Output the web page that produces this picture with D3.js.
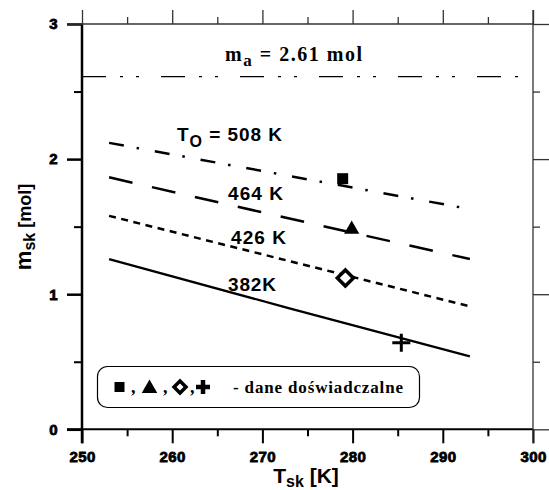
<!DOCTYPE html>
<html>
<head>
<meta charset="utf-8">
<script src="https://cdn.jsdelivr.net/npm/d3@7"></script>
<style>
html,body{margin:0;padding:0;background:#fff;}
svg{display:block;}
</style>
</head>
<body>
<svg id="chart" width="549" height="490"></svg>
<script>
// ---- data ----
const xTicks = [250, 260, 270, 280, 290, 300];
const yTicks = [0, 1, 2, 3];
const lineT = [253, 273, 293];
const m508 = [2.12, 1.875, 1.63];
const m464 = [1.865, 1.56, 1.26];
const m426 = [1.58, 1.245, 0.91];
const m382 = [1.26, 0.895, 0.54];
const lineLabels = ["508 K", "464 K", "426 K", "382K"];
const expT = [278.9, 279.9, 279.2, 285.4];
const expM = [1.855, 1.48, 1.12, 0.64];
const mA = 2.61;

const svg = d3.select("#chart");
const x = d3.scaleLinear().domain([250, 300]).range([82, 533]);
const y = d3.scaleLinear().domain([0, 3]).range([429.3, 24]);

const sans = "Arial, 'Liberation Sans', Helvetica, sans-serif";
const serif = "'Times New Roman', 'Liberation Serif', serif";

// ---- axes ----
function styleAxis(g, w, col) {
  g.select(".domain").attr("stroke", col).attr("stroke-width", w);
  g.selectAll(".tick line").attr("stroke", col).attr("stroke-width", w);
}
function styleTickText(g) {
  g.selectAll(".tick text")
    .style("font-family", sans).style("font-weight", "bold").style("font-size", "15px")
    .style("letter-spacing", "0.4px")
    .attr("fill", "#000").attr("stroke", "#000").attr("stroke-width", 0.8);
}
const xMinor = d3.range(255, 300, 10);
const yMinor = [0.5, 1.5, 2.5];

// bottom
const gB = svg.append("g").attr("transform", `translate(0,${y(0)})`)
  .call(d3.axisBottom(x).tickValues(xTicks).tickSize(14).tickSizeOuter(0).tickFormat(d3.format("d")).tickPadding(8));
styleTickText(gB);
const gBm = svg.append("g").attr("transform", `translate(0,${y(0)})`)
  .call(d3.axisBottom(x).tickValues(xMinor).tickSize(7).tickSizeOuter(0).tickFormat(""));
gBm.select(".domain").remove();
styleAxis(gB, 2, "#000"); styleAxis(gBm, 2, "#000");

// left
const gL = svg.append("g").attr("transform", `translate(${x(250)},0)`)
  .call(d3.axisLeft(y).tickValues(yTicks).tickSize(15).tickSizeOuter(0).tickFormat(d3.format("d")).tickPadding(9));
styleTickText(gL);
const gLm = svg.append("g").attr("transform", `translate(${x(250)},0)`)
  .call(d3.axisLeft(y).tickValues(yMinor).tickSize(8).tickSizeOuter(0).tickFormat(""));
gLm.select(".domain").remove();
styleAxis(gL, 2.5, "#000"); styleAxis(gLm, 2, "#000");

// top
const gT = svg.append("g").attr("transform", `translate(0,${y(3)})`)
  .call(d3.axisTop(x).tickValues(xTicks).tickSize(14).tickSizeOuter(0).tickFormat(""));
const gTm = svg.append("g").attr("transform", `translate(0,${y(3)})`)
  .call(d3.axisTop(x).tickValues(xMinor).tickSize(7).tickSizeOuter(0).tickFormat(""));
gTm.select(".domain").remove();
styleAxis(gT, 1.3, "#333"); styleAxis(gTm, 1.3, "#333");
gT.select(".domain").attr("d", `M${x(250) - 15},0H${x(300)}`);

// right
const gR = svg.append("g").attr("transform", `translate(${x(300)},0)`)
  .call(d3.axisRight(y).tickValues(yTicks).tickSize(16).tickSizeOuter(0).tickFormat(""));
const gRm = svg.append("g").attr("transform", `translate(${x(300)},0)`)
  .call(d3.axisRight(y).tickValues(yMinor).tickSize(7).tickSizeOuter(0).tickFormat(""));
gRm.select(".domain").remove();
styleAxis(gR, 1.3, "#333"); styleAxis(gRm, 1.3, "#333");
gR.select(".domain").attr("d", `M0,${y(3) - 14}V${y(0) + 14}`);
gB.select(".domain").attr("d", `M${x(250) - 15},0H${x(300)}`);
gL.select(".domain").attr("d", `M0,${y(3)}V${y(0) + 14}`);

// ---- axis titles ----
const xl = svg.append("text").attr("x", 306).attr("y", 483)
  .attr("text-anchor", "middle").attr("font-family", sans).attr("font-weight", "bold").attr("font-size", 21);
xl.append("tspan").text("T");
xl.append("tspan").attr("font-size", 16).attr("dy", 4).text("sk");
xl.append("tspan").attr("dy", -4).text(" [K]");

const yl = svg.append("text").attr("transform", "translate(31,227) rotate(-90)")
  .attr("text-anchor", "middle").attr("font-family", sans).attr("font-weight", "bold").attr("font-size", 18);
yl.append("tspan").attr("font-size", 22).text("m");
yl.append("tspan").attr("font-size", 16).attr("dy", 4).text("sk");
yl.append("tspan").attr("dy", -4).text(" [mol]");

// ---- lines ----
const line = d3.line().x(d => x(d[0])).y(d => y(d[1]));
const series = [
  { vals: m508, dash: "15,13,2.5,16", w: 2.5 },
  { vals: m464, dash: "24,20", w: 2.5 },
  { vals: m426, dash: "7,5.5", w: 2.5 },
  { vals: m382, dash: null, w: 2.2 }
];
series.forEach(s => {
  svg.append("path").datum(lineT.map((t, i) => [t, s.vals[i]]))
    .attr("d", line).attr("fill", "none").attr("stroke", "#000")
    .attr("stroke-width", s.w).attr("stroke-dasharray", s.dash);
});

// m_a line
svg.append("path").datum([[250, mA], [299.5, mA]]).attr("d", line)
  .attr("fill", "none").attr("stroke", "#000").attr("stroke-width", 1.3)
  .attr("stroke-dasharray", "24,14,3,13,3,22");

// ---- line labels ----
function lbl(xp, yp, len, parts) {
  const t = svg.append("text").attr("x", xp).attr("y", yp)
    .attr("font-family", sans).attr("font-weight", "bold").attr("font-size", 19)
    .attr("textLength", len).attr("lengthAdjust", "spacing");
  parts.forEach(p => {
    const ts = t.append("tspan").text(p.t);
    if (p.fs) ts.attr("font-size", p.fs);
    if (p.dy) ts.attr("dy", p.dy);
  });
  return t;
}
lbl(177, 140.5, 105, [{ t: "T" }, { t: "O", fs: 16, dy: 6 }, { t: " = " + lineLabels[0], dy: -6 }]);
lbl(228, 200, 55, [{ t: lineLabels[1] }]);
lbl(231, 243.5, 55, [{ t: lineLabels[2] }]);
lbl(228, 291, 48, [{ t: lineLabels[3] }]);

// m_a label
const ma = svg.append("text").attr("x", 225).attr("y", 61)
  .attr("font-family", serif).attr("font-weight", "bold").attr("font-size", 20)
  .attr("textLength", 137).attr("lengthAdjust", "spacing");
ma.append("tspan").text("m");
ma.append("tspan").attr("font-size", 17).attr("dy", 5).text("a");
ma.append("tspan").attr("dy", -5).text(" = " + mA.toFixed(2) + " mol");

// ---- experimental points ----
const sq = d3.symbol().type(d3.symbolSquare);
const tri = d3.symbol().type(d3.symbolTriangle);
const gm = svg.append("g");
expT.forEach((t, i) => {
  const cx = x(t), cy = y(expM[i]);
  if (i === 0) {
    gm.append("path").attr("d", sq.size(121)()).attr("transform", `translate(${cx},${cy})`).attr("fill", "#000");
  } else if (i === 1) {
    gm.append("path").attr("d", tri.size(100)()).attr("transform", `translate(${cx},${cy})`).attr("fill", "#000");
  } else if (i === 2) {
    gm.append("path").attr("d", sq.size(130)()).attr("transform", `translate(${cx},${cy}) rotate(45)`)
      .attr("fill", "#fff").attr("stroke", "#000").attr("stroke-width", 3.5);
  } else {
    gm.append("path").attr("d", "M-9,0H9M0,-9V9").attr("transform", `translate(${cx},${cy})`)
      .attr("stroke", "#000").attr("stroke-width", 3).attr("fill", "none");
  }
});

// ---- legend ----
svg.append("rect").attr("x", 97.5).attr("y", 366.5).attr("width", 322).attr("height", 41)
  .attr("rx", 10).attr("fill", "#fff").attr("stroke", "#000").attr("stroke-width", 1.2);
const gl = svg.append("g");
gl.append("path").attr("d", sq.size(100)()).attr("transform", "translate(119.5,387)").attr("fill", "#000");
gl.append("path").attr("d", tri.size(105)()).attr("transform", "translate(149.5,388.5)").attr("fill", "#000");
gl.append("path").attr("d", sq.size(72)()).attr("transform", "translate(180,387) rotate(45)")
  .attr("fill", "#fff").attr("stroke", "#000").attr("stroke-width", 3.5);
gl.append("path").attr("d", "M-7,0H7M0,-7V7").attr("transform", "translate(203,387)")
  .attr("stroke", "#000").attr("stroke-width", 4.5);
[131, 163, 190].forEach(cx => gl.append("text").attr("x", cx).attr("y", 393)
  .attr("font-family", serif).attr("font-weight", "bold").attr("font-size", 18).text(","));
gl.append("text").attr("x", 233).attr("y", 393)
  .attr("font-family", serif).attr("font-weight", "bold").attr("font-size", 17)
  .attr("textLength", 170).attr("lengthAdjust", "spacing").text("- dane doświadczalne");
</script>
</body>
</html>
